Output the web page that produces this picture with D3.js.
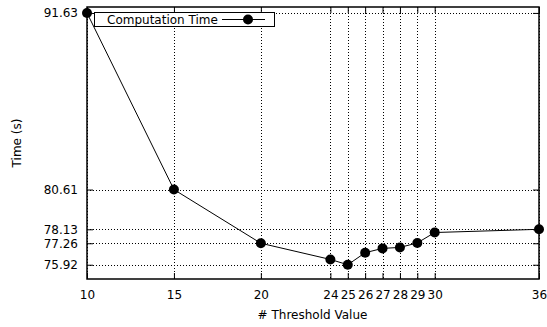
<!DOCTYPE html>
<html>
<head>
<meta charset="utf-8">
<script src="https://cdn.jsdelivr.net/npm/d3@7"></script>
<style>
  body { margin: 0; background: #fff; }
  text { font-family: "DejaVu Sans", sans-serif; font-size: 12px; fill: #000; }
</style>
</head>
<body>
<svg id="chart" width="547" height="327"></svg>
<script>
// threshold values and measured time
const thresholds = [10, 15, 20, 24, 25, 26, 27, 28, 29, 30, 36];
const times = [91.63, 80.61, 77.26, 76.25, 75.92, 76.67, 76.94, 77.0, 77.28, 77.93, 78.13];
const yTicks = [75.92, 77.26, 78.13, 80.61, 91.63];
const xTicks = [10, 15, 20, 24, 25, 26, 27, 28, 29, 30, 36];
const seriesName = "Computation Time";

const margin = {left: 87, right: 8, top: 7, bottom: 48};
const width = 547, height = 327;
const svg = d3.select("#chart");

const x = d3.scaleLinear().domain([10, 36]).range([margin.left, width - margin.right]);
const y = d3.scaleLinear().domain([75.03, 92.0]).range([height - margin.bottom, margin.top]);

const x0 = margin.left, x1 = width - margin.right;
const y0 = height - margin.bottom, y1 = margin.top;

// grid
const grid = svg.append("g")
  .attr("stroke", "#000")
  .attr("stroke-width", 1)
  .attr("stroke-dasharray", "1,2");
grid.selectAll("line.gy").data(yTicks).enter().append("line")
  .attr("x1", x0).attr("x2", x1)
  .attr("y1", d => Math.round(y(d)) + 0.5).attr("y2", d => Math.round(y(d)) + 0.5);
grid.selectAll("line.gx").data(xTicks).enter().append("line")
  .attr("y1", y1).attr("y2", y0)
  .attr("x1", d => Math.round(x(d)) + 0.5).attr("x2", d => Math.round(x(d)) + 0.5);

// axes (ticks inside, mirrored)
const fmt = d => d.toFixed(2);
svg.append("g").attr("transform", `translate(${x0},0)`)
  .call(d3.axisLeft(y).tickValues(yTicks).tickFormat(fmt).tickSize(-6).tickPadding(9))
  .call(g => g.select(".domain").remove());
svg.append("g").attr("transform", `translate(${x1},0)`)
  .call(d3.axisRight(y).tickValues(yTicks).tickFormat("").tickSize(-6))
  .call(g => g.select(".domain").remove());
svg.append("g").attr("transform", `translate(0,${y0})`)
  .call(d3.axisBottom(x).tickValues(xTicks).tickFormat(d3.format("d")).tickSize(-6).tickPadding(11))
  .call(g => g.select(".domain").remove());
svg.append("g").attr("transform", `translate(0,${y1})`)
  .call(d3.axisTop(x).tickValues(xTicks).tickFormat("").tickSize(-6))
  .call(g => g.select(".domain").remove());
svg.selectAll(".tick text").style("font-size", "12px").style("font-family", "DejaVu Sans");

// border
svg.append("rect")
  .attr("x", x0).attr("y", y1)
  .attr("width", x1 - x0).attr("height", y0 - y1)
  .attr("fill", "none").attr("stroke", "#000").attr("stroke-width", 1.5);

// labels
svg.append("text")
  .attr("x", 312.5).attr("y", 319)
  .attr("text-anchor", "middle")
  .text("# Threshold Value");
svg.append("text")
  .attr("transform", `translate(21,${(y0 + y1) / 2}) rotate(-90)`)
  .attr("text-anchor", "middle")
  .text("Time (s)");

// legend
const lg = svg.append("g");
lg.append("rect")
  .attr("x", 94.5).attr("y", 12.5).attr("width", 180).attr("height", 14)
  .attr("fill", "#fff").attr("stroke", "#000").attr("stroke-width", 1);
lg.append("text").attr("x", 107).attr("y", 24).text(seriesName);
lg.append("line").attr("x1", 222).attr("x2", 265).attr("y1", 19.5).attr("y2", 19.5)
  .attr("stroke", "#000").attr("stroke-width", 1);
lg.append("circle").attr("cx", 248).attr("cy", 19.5).attr("r", 5).attr("fill", "#000");

// series
const data = thresholds.map((t, i) => ({t, v: times[i]}));
svg.append("path").datum(data)
  .attr("fill", "none").attr("stroke", "#000").attr("stroke-width", 1)
  .attr("d", d3.line().x(d => x(d.t)).y(d => y(d.v)));
svg.selectAll("circle.pt").data(data).enter().append("circle")
  .attr("class", "pt")
  .attr("cx", d => x(d.t)).attr("cy", d => y(d.v)).attr("r", 5)
  .attr("fill", "#000");
</script>
</body>
</html>
